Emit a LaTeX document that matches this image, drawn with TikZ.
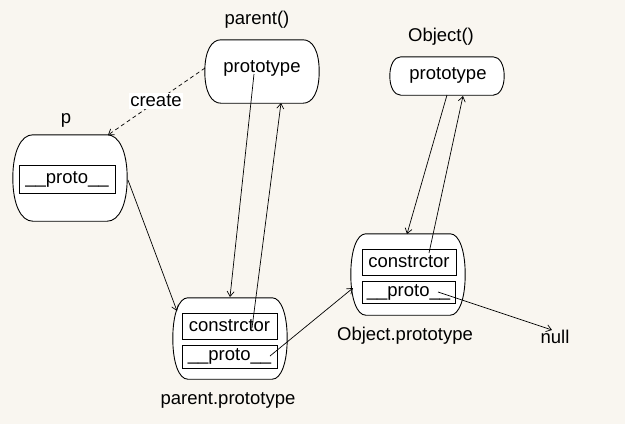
\documentclass[tikz,border=0pt]{standalone}
\usepackage{fontspec}
\setmainfont{Liberation Sans}
\usetikzlibrary{arrows.meta,calc}
\definecolor{bgc}{RGB}{249,246,240}
% #1 node name, #2 horizontal corner length, #3 vertical control length
\newcommand\blobpath[3]{%
  \draw[blobline]
    ($(#1.north west)+(#2,0)$) -- ($(#1.north east)+(-#2,0)$)
    .. controls ($(#1.north east)+(-0.4*#2,0)$) and ($(#1.east)+(0,-#3)$) .. (#1.east)
    .. controls ($(#1.east)+(0,#3)$) and ($(#1.south east)+(-0.4*#2,0)$) .. ($(#1.south east)+(-#2,0)$)
    -- ($(#1.south west)+(#2,0)$)
    .. controls ($(#1.south west)+(0.4*#2,0)$) and ($(#1.west)+(0,#3)$) .. (#1.west)
    .. controls ($(#1.west)+(0,-#3)$) and ($(#1.north west)+(0.4*#2,0)$) .. cycle;}
\begin{document}
\begin{tikzpicture}[x=1pt,y=-1pt,
  every node/.style={font=\fontsize{18.5}{20}\selectfont},
  bigbox/.style={inner sep=0pt},
  blobline/.style={draw=black, fill=white, line width=0.9pt},
  fieldbox/.style={draw=black, fill=white, line width=0.9pt, inner sep=0pt},
  lbl/.style={inner sep=0pt},
  conn/.style={line width=0.7pt, -{Straight Barb[length=5pt,width=7pt]}},
]
\fill[bgc] (0,0) rectangle (625,424);
\useasboundingbox (0,0) rectangle (625,424);

% parent()
\node[lbl] (parentlbl) at (257,20) {parent()};
\node[bigbox, minimum width=114pt, minimum height=63pt] (parentbox) at (262,71.5) {};
\blobpath{parentbox}{16}{20}
\node[lbl] (parentproto) at (262,68) {prototype};

% p
\node[lbl] (plbl) at (66,120) {p};
\node[bigbox, minimum width=114pt, minimum height=86pt] (pbox) at (70,178) {};
\blobpath{pbox}{20}{26}
\node[fieldbox, minimum width=96pt, minimum height=28pt] (pproto) at (67,179) {\_\_proto\_\_};

% parent.prototype
\node[bigbox, minimum width=114pt, minimum height=81pt] (ppbox) at (230,338.5) {};
\blobpath{ppbox}{15}{24}
\node[fieldbox, minimum width=95pt, minimum height=26pt] (ppcons) at (229.5,326) {constrctor};
\node[fieldbox, minimum width=95pt, minimum height=23pt] (ppproto) at (229.5,356.5) {\_\_proto\_\_};
\node[lbl] (pplbl) at (228,400) {parent.prototype};

% Object()
\node[lbl] (objlbl) at (441,37) {Object()};
\node[bigbox, minimum width=114pt, minimum height=38pt] (objbox) at (447,76) {};
\blobpath{objbox}{11}{11}
\node[lbl] (objproto) at (448,75) {prototype};

% Object.prototype
\node[bigbox, minimum width=114pt, minimum height=81pt] (opbox) at (408,274.5) {};
\blobpath{opbox}{15}{24}
\node[fieldbox, minimum width=94pt, minimum height=26pt] (opcons) at (409,262) {constrctor};
\node[fieldbox, minimum width=93pt, minimum height=22pt] (opproto) at (408.5,292) {\_\_proto\_\_};
\node[lbl] (oplbl) at (405,336) {Object.prototype};

% null
\node[lbl] (null) at (555,337) {null};

% connector end points
\coordinate (c1s) at (128,180);
\coordinate (c1e) at (177,311);
\coordinate (c2s) at (254,74);
\coordinate (c2e) at (230,297);
\coordinate (c3s) at (252,328);
\coordinate (c3e) at (281,103);
\coordinate (c4s) at (270,356);
\coordinate (c4e) at (353,288);
\coordinate (c5s) at (447,95);
\coordinate (c5e) at (407,234);
\coordinate (c6s) at (429,253);
\coordinate (c6e) at (463,96);
\coordinate (c7s) at (438,292);
\coordinate (c7e) at (552,330);
\coordinate (c0s) at (205,68);
\coordinate (c0e) at (108,135);

% create (dashed)
\draw[conn, dash pattern=on 4pt off 3pt] (c0s) -- (c0e);
\node[lbl, fill=white, inner sep=1.5pt] (create) at (156,101) {create};

\draw[conn] (c1s) -- (c1e);
\draw[conn] (c2s) -- (c2e);
\draw[conn] (c3s) -- (c3e);
\draw[conn] (c4s) -- (c4e);
\draw[conn] (c5s) -- (c5e);
\draw[conn] (c6s) -- (c6e);
\draw[conn] (c7s) -- (c7e);
\end{tikzpicture}
\end{document}
